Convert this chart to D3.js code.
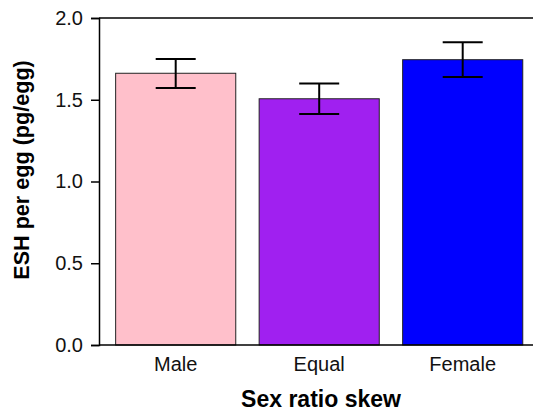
<!DOCTYPE html>
<html>
<head>
<meta charset="utf-8">
<script src="https://cdn.jsdelivr.net/npm/d3@7"></script>
<style>
  body { margin: 0; background: #fff; }
  svg { display: block; font-family: "Liberation Sans", Arial, sans-serif; }
</style>
</head>
<body>
<div id="chart"></div>
<script>
// ESH per egg by sex ratio skew, mean +/- error
const categories = ["Male", "Equal", "Female"];
const means = [1.662, 1.506, 1.745];
const errLow = [1.572, 1.413, 1.639];
const errHigh = [1.749, 1.600, 1.851];
const barColors = ["#FFC0CB", "#A020F0", "#0000FF"];
const yTicks = [0, 0.5, 1.0, 1.5, 2.0];

const width = 534, height = 414;
const plotLeft = 99, plotRight = 533, plotTop = 18, plotBottom = 345;

const svg = d3.select("#chart").append("svg")
  .attr("width", width)
  .attr("height", height);

const x = d3.scaleBand()
  .domain(categories)
  .range([plotLeft, 539.4])
  .paddingInner(0.163)
  .paddingOuter(0.116);

const y = d3.scaleLinear()
  .domain([0, 2])
  .range([plotBottom, plotTop]);

const rows = categories.map((c, i) => ({
  cat: c, mean: means[i], lo: errLow[i], hi: errHigh[i], color: barColors[i]
}));

// bars
svg.append("g")
  .selectAll("rect")
  .data(rows)
  .join("rect")
  .attr("x", d => x(d.cat))
  .attr("y", d => y(d.mean))
  .attr("width", x.bandwidth())
  .attr("height", d => y(0) - y(d.mean))
  .attr("fill", d => d.color)
  .attr("stroke", "#222")
  .attr("stroke-width", 1);

// error bars
const capW = 40;
const eb = svg.append("g")
  .attr("stroke", "#000")
  .attr("stroke-width", 2)
  .selectAll("g")
  .data(rows)
  .join("g")
  .attr("transform", d => `translate(${x(d.cat) + x.bandwidth() / 2},0)`);

eb.append("line")
  .attr("y1", d => y(d.lo))
  .attr("y2", d => y(d.hi));
eb.append("line")
  .attr("x1", -capW / 2).attr("x2", capW / 2)
  .attr("y1", d => y(d.hi)).attr("y2", d => y(d.hi));
eb.append("line")
  .attr("x1", -capW / 2).attr("x2", capW / 2)
  .attr("y1", d => y(d.lo)).attr("y2", d => y(d.lo));

// frame: top and bottom lines run to the right edge
svg.append("line")
  .attr("x1", plotLeft).attr("x2", plotRight)
  .attr("y1", plotTop).attr("y2", plotTop)
  .attr("stroke", "#000").attr("stroke-width", 1.5);
svg.append("line")
  .attr("x1", plotLeft).attr("x2", plotRight)
  .attr("y1", plotBottom).attr("y2", plotBottom)
  .attr("stroke", "#000").attr("stroke-width", 1.5);

// y axis
const yAxis = svg.append("g")
  .attr("transform", `translate(${plotLeft},0)`)
  .call(d3.axisLeft(y).tickValues(yTicks).tickFormat(d3.format(".1f")).tickSize(8).tickPadding(8));
yAxis.select(".domain").attr("stroke-width", 1.5);
yAxis.selectAll(".tick line").attr("stroke-width", 1.5);
yAxis.selectAll("text")
  .attr("font-size", 20)
  .attr("font-family", "'Liberation Sans', Arial, sans-serif")
  .attr("fill", "#111");

// x axis labels (no ticks)
const xAxis = svg.append("g")
  .attr("transform", `translate(0,${plotBottom})`)
  .call(d3.axisBottom(x).tickSize(0).tickPadding(12));
xAxis.select(".domain").remove();
xAxis.selectAll("text")
  .attr("font-size", 20)
  .attr("font-family", "'Liberation Sans', Arial, sans-serif")
  .attr("fill", "#111");

// axis titles
svg.append("text")
  .attr("x", 321)
  .attr("y", 407)
  .attr("text-anchor", "middle")
  .attr("font-size", 23)
  .attr("font-weight", "bold")
  .text("Sex ratio skew");

svg.append("text")
  .attr("transform", "translate(29,170) rotate(-90)")
  .attr("text-anchor", "middle")
  .attr("font-size", 21.6)
  .attr("font-weight", "bold")
  .text("ESH per egg (pg/egg)");
</script>
</body>
</html>
